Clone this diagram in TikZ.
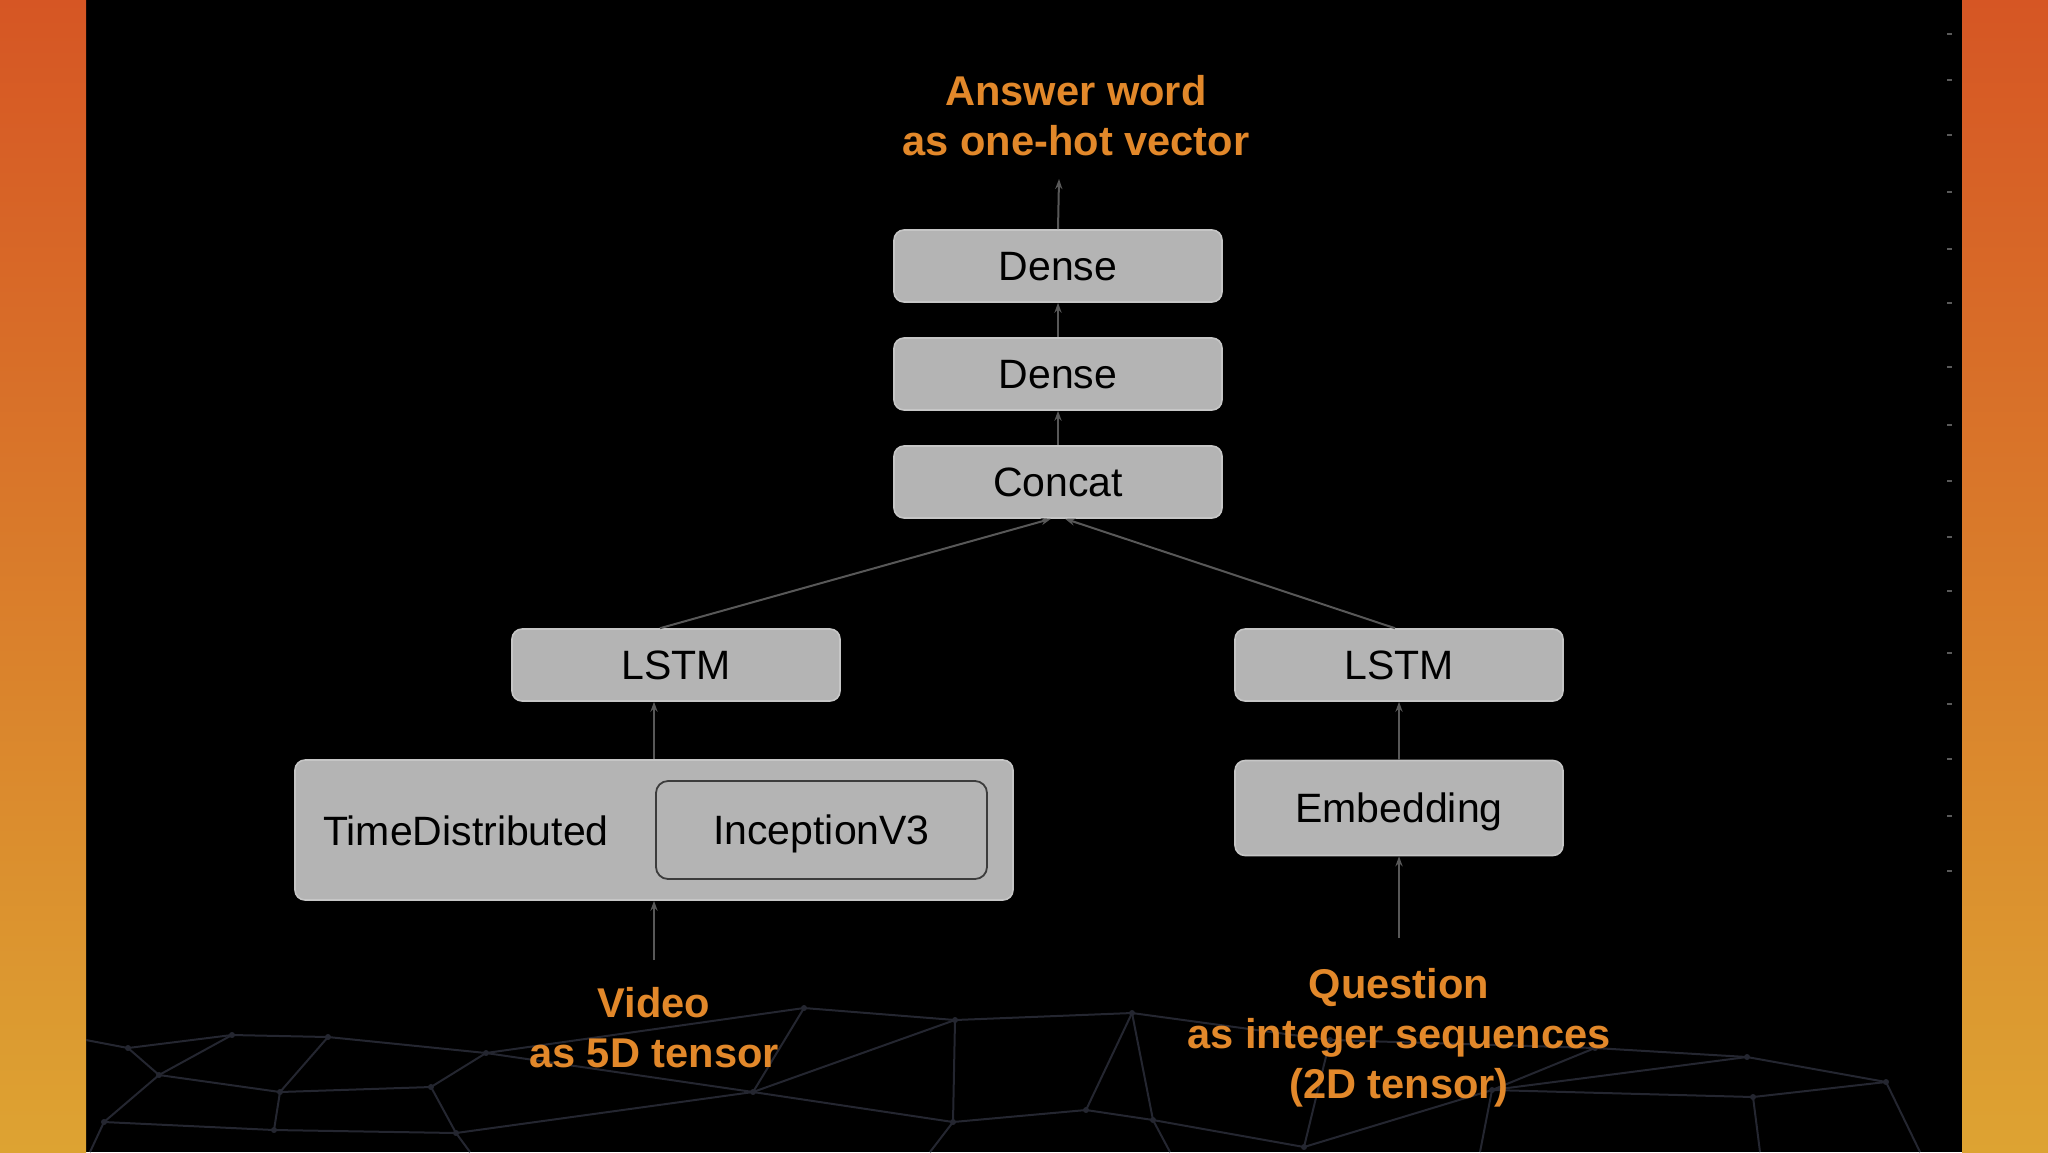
\documentclass[tikz,border=0pt]{standalone}
\usepackage{fontspec}
\setmainfont{Liberation Sans}
\usetikzlibrary{arrows.meta}
\definecolor{bandtop}{RGB}{214,86,36}
\definecolor{bandbot}{RGB}{221,163,50}
\definecolor{boxfill}{RGB}{180,180,180}
\definecolor{boxline}{RGB}{198,198,198}
\definecolor{innerline}{RGB}{60,60,60}
\definecolor{wire}{RGB}{88,88,88}
\definecolor{lbl}{RGB}{226,136,42}
\definecolor{meshc}{RGB}{36,38,48}
\definecolor{dotc}{RGB}{90,90,90}
\begin{document}
\begin{tikzpicture}[x=0.5pt,y=-0.5pt,
  layer/.style={draw=boxline, line width=0.8pt, fill=boxfill, rounded corners=5pt,
    font=\fontsize{20.5}{24}\selectfont, text=black, inner sep=0pt,
    text height=14.8pt, text depth=0pt,
    minimum width=164pt, minimum height=36pt},
  inner/.style={draw=innerline, line width=0.9pt, fill=boxfill, rounded corners=6pt,
    font=\fontsize{20.5}{24}\selectfont, text=black, inner sep=0pt,
    text height=14.8pt, text depth=0pt},
  lbltext/.style={font=\fontsize{20.8}{25}\selectfont\bfseries, text=lbl, align=center},
  plain/.style={font=\fontsize{20.5}{24}\selectfont, text=black, inner sep=0pt,
    text height=14.8pt, text depth=0pt},
  wirearrow/.style={draw=wire, line width=1pt, -{Stealth[length=5pt,width=3.6pt]}},
  meshline/.style={draw=meshc, line width=1pt},
  meshdot/.style={fill=meshc}
]
% background
\useasboundingbox (0,0) rectangle (2048,1152);
\fill[black] (0,0) rectangle (2048,1152);
\shade[top color=bandtop, bottom color=bandbot] (0,0) rectangle (86,1152);
\shade[top color=bandtop, bottom color=bandbot] (1962,0) rectangle (2048,1152);

% faint mesh at the bottom
\begin{scope}
\clip (86,960) rectangle (1962,1152);
\draw[meshline] (86,1040) -- (128,1048) -- (232,1035) -- (328,1037) -- (486,1053) -- (804,1008) -- (955,1020) -- (1132,1013);
\draw[meshline] (128,1048) -- (159,1075) -- (280,1092) -- (431,1087) -- (486,1053);
\draw[meshline] (232,1035) -- (159,1075);
\draw[meshline] (328,1037) -- (280,1092);
\draw[meshline] (486,1053) -- (753,1092) -- (955,1020);
\draw[meshline] (804,1008) -- (753,1092);
\draw[meshline] (753,1092) -- (953,1122) -- (1086,1110) -- (1153,1120) -- (1304,1147);
\draw[meshline] (1132,1013) -- (1153,1120);
\draw[meshline] (1132,1013) -- (1086,1110);
\draw[meshline] (955,1020) -- (953,1122);
\draw[meshline] (1132,1013) -- (1330,1040) -- (1595,1048) -- (1747,1057) -- (1886,1082);
\draw[meshline] (1492,1090) -- (1747,1057);
\draw[meshline] (1886,1082) -- (1753,1097) -- (1492,1090);
\draw[meshline] (1304,1147) -- (1492,1090) -- (1595,1048);
\draw[meshline] (104,1122) -- (274,1130) -- (456,1133) -- (753,1092);
\draw[meshline] (159,1075) -- (104,1122);
\draw[meshline] (280,1092) -- (274,1130);
\draw[meshline] (431,1087) -- (456,1133);
\draw[meshline] (1886,1082) -- (1920,1152);
\draw[meshline] (1753,1097) -- (1760,1152);
\draw[meshline] (1492,1090) -- (1480,1152);
\draw[meshline] (953,1122) -- (930,1152);
\draw[meshline] (1153,1120) -- (1170,1152);
\draw[meshline] (104,1122) -- (90,1152);
\draw[meshline] (456,1133) -- (470,1152);
\draw[meshline] (1330,1040) -- (1304,1147);
\foreach \p in {(128,1048),(232,1035),(328,1037),(486,1053),(804,1008),(955,1020),(1132,1013),
  (159,1075),(280,1092),(431,1087),(753,1092),(953,1122),(1086,1110),(1153,1120),(1304,1147),
  (1330,1040),(1595,1048),(1747,1057),(1886,1082),(1753,1097),(1492,1090),(104,1122),(274,1130),(456,1133)}
  \fill[meshdot] \p circle (3);
\end{scope}

% small marks at the right edge
\foreach \yy in {33,79,134,191,248,302,366,424,480,536,590,652,703,758,815,870}
  \fill[dotc] (1947,\yy) rectangle (1952,\yy+2);

% layers
\node[layer] (dense1) at (1058,266) {Dense};
\node[layer] (dense2) at (1058,374) {Dense};
\node[layer] (concat) at (1058,482) {Concat};
\node[layer] (lstmL) at (676,665) {LSTM};
\node[layer] (lstmR) at (1399,665) {LSTM};
\node[layer, minimum width=359pt, minimum height=70pt] (td) at (654,830) {};
\node[plain] (tdtext) at (466,831) {TimeDistributed};
\node[inner, minimum width=165.5pt, minimum height=49pt] (incep) at (821.5,830) {InceptionV3};
\node[layer, minimum height=47.5pt] (emb) at (1399,808) {Embedding};

% labels
\node[lbltext] (answer) at (1076,116) {Answer word\\as one-hot vector};
\node[lbltext] (video) at (654,1028) {Video\\as 5D tensor};
\node[lbltext] (question) at (1399,1038) {Question\\as integer sequences\\(2D tensor)};

\coordinate (ansend) at (1059,179);
\coordinate (vidstart) at (654,960);
\coordinate (qstart) at (1399,938);

% connectors
\draw[wirearrow] (dense1.north) -- (ansend);
\draw[wirearrow] (dense2.north) -- (dense1.south);
\draw[wirearrow] (concat.north) -- (dense2.south);
\draw[wirearrow] ([xshift=-8pt]lstmL.north) -- ([xshift=-3.5pt]concat.south);
\draw[wirearrow] ([xshift=-2pt]lstmR.north) -- ([xshift=3.5pt]concat.south);
\draw[wirearrow] (td.north) -- (td.north |- lstmL.south);
\draw[wirearrow] (vidstart) -- (td.south);
\draw[wirearrow] (emb.north) -- (lstmR.south);
\draw[wirearrow] (qstart) -- (emb.south);
\end{tikzpicture}
\end{document}
